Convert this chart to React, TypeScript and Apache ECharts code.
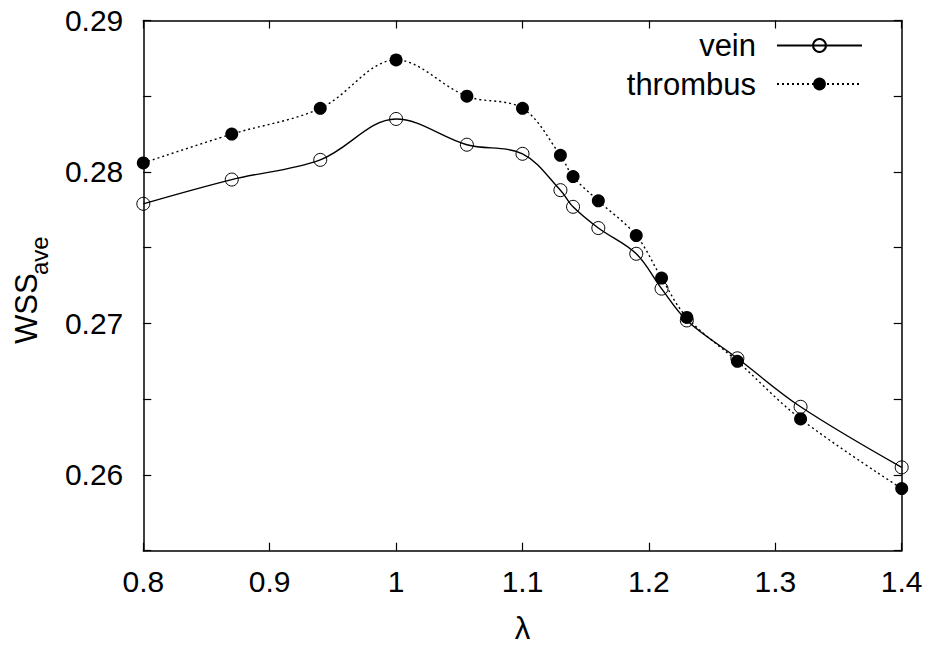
import React, { useEffect, useRef } from "react";
import * as echarts from "echarts";

const lambdaValues = [0.8, 0.87, 0.94, 1.0, 1.056, 1.1, 1.13, 1.14, 1.16, 1.19, 1.21, 1.23, 1.27, 1.32, 1.4];
const veinValues = [0.2779, 0.2795, 0.2808, 0.2835, 0.2818, 0.2812, 0.2788, 0.2777, 0.2763, 0.2746, 0.2723, 0.2702, 0.2677, 0.2645, 0.2605];
const thrombusValues = [0.2806, 0.2825, 0.2842, 0.2874, 0.285, 0.2842, 0.2811, 0.2797, 0.2781, 0.2758, 0.273, 0.2704, 0.2675, 0.2637, 0.2591];
const seriesNames = ["vein", "thrombus"];
const xTitle = "λ";
const yTitleMain = "WSS";
const yTitleSub = "ave";

const FONT = "'Liberation Sans', Arial, Helvetica, sans-serif";

export default function App() {
  const ref = useRef<HTMLDivElement>(null);
  useEffect(() => {
    if (!ref.current) return;
    const chart = echarts.init(ref.current, null, { renderer: "svg" });
    const axisLine = { show: true, onZero: false, lineStyle: { color: "#000", width: 1.5 } };
    const tick = { show: true, inside: true, length: 8, lineStyle: { color: "#000", width: 1.2 } };
    const yFmt = (v: number) => {
      const k = Math.round(v * 1000);
      return k % 10 === 0 ? v.toFixed(2) : "";
    };
    const legendCommon = {
      orient: "horizontal",
      align: "right",
      right: 65,
      itemWidth: 85,
      itemHeight: 16,
      selectedMode: false,
      textStyle: { fontFamily: FONT, fontSize: 31, color: "#000", padding: [0, 16, 0, 0] },
    };
    chart.setOption({
      animation: false,
      backgroundColor: "#fff",
      grid: { left: 143.3, right: 31.3, top: 20.5, bottom: 99.3, containLabel: false },
      legend: [
        { ...legendCommon, top: 25, data: [seriesNames[0]] },
        { ...legendCommon, top: 63.5, data: [seriesNames[1]] },
      ],
      xAxis: [
        {
          type: "value",
          min: 0.8,
          max: 1.4,
          interval: 0.1,
          position: "bottom",
          axisLine,
          axisTick: tick,
          splitLine: { show: false },
          axisLabel: { margin: 16, fontFamily: FONT, fontSize: 30, color: "#000" },
          name: xTitle,
          nameLocation: "middle",
          nameGap: 62,
          nameTextStyle: { fontFamily: FONT, fontSize: 31, color: "#000" },
        },
        {
          type: "value",
          min: 0.8,
          max: 1.4,
          interval: 0.1,
          position: "top",
          axisLine,
          axisTick: tick,
          splitLine: { show: false },
          axisLabel: { show: false },
        },
      ],
      yAxis: [
        {
          type: "value",
          min: 0.255,
          max: 0.29,
          interval: 0.005,
          position: "left",
          axisLine,
          axisTick: tick,
          splitLine: { show: false },
          axisLabel: { margin: 20, fontFamily: FONT, fontSize: 30, color: "#000", formatter: yFmt },
        },
        {
          type: "value",
          min: 0.255,
          max: 0.29,
          interval: 0.005,
          position: "right",
          axisLine,
          axisTick: tick,
          splitLine: { show: false },
          axisLabel: { show: false },
        },
      ],
      graphic: [
        {
          type: "group",
          x: 26,
          y: 344,
          rotation: Math.PI / 2,
          children: [
            {
              type: "text",
              x: 0,
              y: 0,
              style: { text: yTitleMain, fontFamily: FONT, fontSize: 31, fill: "#000", align: "left", verticalAlign: "middle" },
            },
            {
              type: "text",
              x: 69,
              y: 13,
              style: { text: yTitleSub, fontFamily: FONT, fontSize: 24, fill: "#000", align: "left", verticalAlign: "middle" },
            },
          ],
        },
      ],
      series: [
        {
          name: seriesNames[0],
          type: "line",
          xAxisIndex: 0,
          yAxisIndex: 0,
          data: lambdaValues.map((x, i) => [x, veinValues[i]]),
          smooth: 0.35,
          symbol: "circle",
          symbolSize: 13,
          showSymbol: true,
          lineStyle: { color: "#000", width: 1.4, type: "solid" },
          itemStyle: { color: "rgba(255,255,255,0)", borderColor: "#000", borderWidth: 1 },
          emphasis: { disabled: true },
          z: 2,
        },
        {
          name: seriesNames[1],
          type: "line",
          xAxisIndex: 0,
          yAxisIndex: 0,
          data: lambdaValues.map((x, i) => [x, thrombusValues[i]]),
          smooth: 0.35,
          symbol: "circle",
          symbolSize: 13,
          showSymbol: true,
          lineStyle: { color: "#000", width: 1.4, type: [2, 3] },
          itemStyle: { color: "#000", borderColor: "#000", borderWidth: 0 },
          emphasis: { disabled: true },
          z: 3,
        },
      ],
    });
    return () => chart.dispose();
  }, []);
  return <div ref={ref} style={{ position: "fixed", left: 0, top: 0, width: 933, height: 650 }} />;
}
